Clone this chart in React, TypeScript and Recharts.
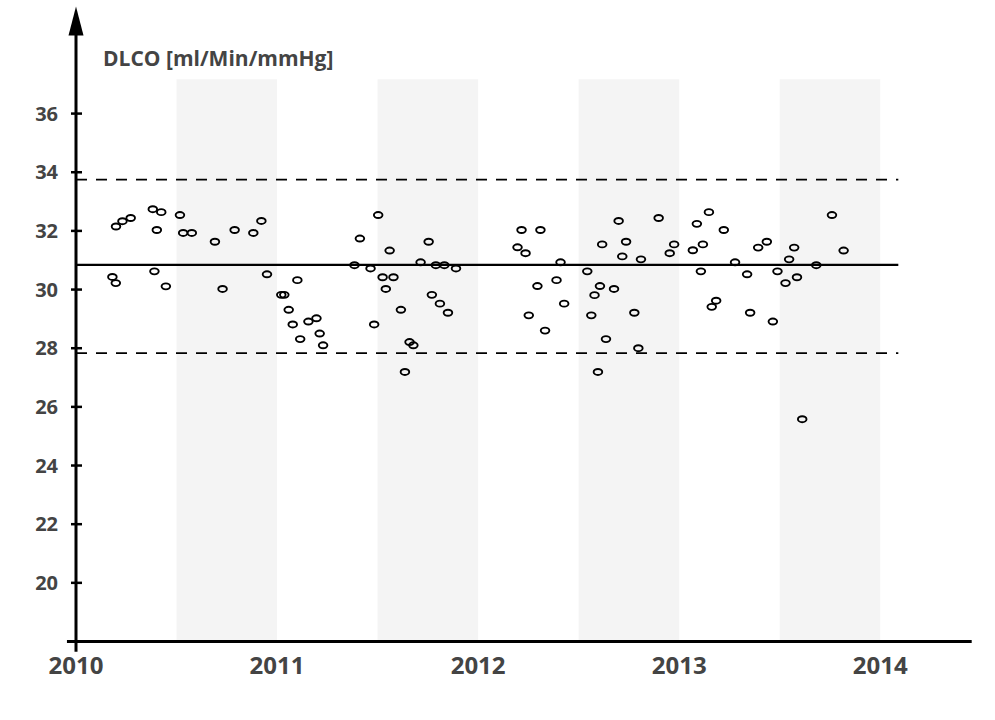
import React from "react";
import {
  ScatterChart,
  Scatter,
  XAxis,
  YAxis,
  ReferenceArea,
  ReferenceLine,
  ReferenceDot,
} from "recharts";

// Measurement dates (decimal years)
const measurementDates: number[] = [
  2010.181, 2010.198, 2010.199, 2010.231, 2010.272, 2010.382, 2010.402, 2010.39, 2010.424, 2010.447,
  2010.517, 2010.533, 2010.576, 2010.691, 2010.729, 2010.789, 2010.882, 2010.922, 2010.95,
  2011.021, 2011.036, 2011.058, 2011.078, 2011.101, 2011.115, 2011.156, 2011.196, 2011.212, 2011.229,
  2011.385, 2011.412, 2011.465, 2011.483, 2011.503, 2011.525, 2011.541, 2011.56, 2011.579, 2011.616,
  2011.636, 2011.659, 2011.678, 2011.714, 2011.754, 2011.77, 2011.79, 2011.81, 2011.832, 2011.85, 2011.89,
  2012.196, 2012.216, 2012.236, 2012.252, 2012.295, 2012.31, 2012.333, 2012.39, 2012.41, 2012.428,
  2012.543, 2012.563, 2012.579, 2012.596, 2012.606, 2012.617, 2012.636, 2012.676, 2012.699, 2012.717,
  2012.736, 2012.777, 2012.797, 2012.81, 2012.898, 2012.953, 2012.975,
  2013.068, 2013.088, 2013.108, 2013.118, 2013.148, 2013.162, 2013.184, 2013.222, 2013.278, 2013.338,
  2013.353, 2013.393, 2013.436, 2013.466, 2013.489, 2013.529, 2013.547, 2013.572, 2013.586, 2013.612,
  2013.682, 2013.76, 2013.818,
];

// DLCO values [ml/Min/mmHg]
const dlcoValues: number[] = [
  30.43, 30.22, 32.15, 32.33, 32.44, 32.74, 32.03, 30.62, 32.64, 30.11,
  32.54, 31.93, 31.93, 31.63, 30.02, 32.03, 31.93, 32.34, 30.52,
  29.82, 29.82, 29.31, 28.81, 30.32, 28.31, 28.91, 29.02, 28.5, 28.1,
  30.83, 31.74, 30.72, 28.81, 32.54, 30.42, 30.02, 31.33, 30.42, 29.31,
  27.19, 28.21, 28.1, 30.93, 31.63, 29.82, 30.83, 29.52, 30.83, 29.21, 30.72,
  31.44, 32.03, 31.24, 29.12, 30.12, 32.03, 28.6, 30.32, 30.93, 29.52,
  30.62, 29.12, 29.81, 27.19, 30.12, 31.54, 28.31, 30.02, 32.34, 31.13,
  31.63, 29.21, 28.0, 31.03, 32.44, 31.24, 31.54,
  31.34, 32.24, 30.62, 31.54, 32.64, 29.41, 29.62, 32.03, 30.93, 30.52,
  29.21, 31.43, 31.63, 28.91, 30.62, 30.22, 31.03, 31.43, 30.42, 25.58,
  30.83, 32.54, 31.33,
];

const yearTicks: number[] = [2010, 2011, 2012, 2013, 2014];
const valueTicks: number[] = [20, 22, 24, 26, 28, 30, 32, 34, 36];
const shadedHalfYears: number[] = [2010.5, 2011.5, 2012.5, 2013.5];

const meanValue = 30.84;
const upperLimit = 33.75;
const lowerLimit = 27.83;
const refLineEnd = 2014.09;

const yTitle = "DLCO [ml/Min/mmHg]";

const X_MIN = 2010;
const X_MAX = 2014.455;
const Y_MIN = 18;
const Y_MAX = 38.7;

const points = measurementDates.map((x, i) => ({ x, y: dlcoValues[i] }));

const FONT = "'Open Sans', 'Noto Sans', sans-serif";
const TEXT_COLOR = "#444";

const YTick = (props: any) => {
  const { x, y, payload } = props;
  return (
    <g>
      <line x1={x - 5} x2={x + 6} y1={y} y2={y} stroke="#000" strokeWidth={2.5} />
      <text
        x={x - 18}
        y={y + 7}
        textAnchor="end"
        fontFamily={FONT}
        fontWeight={700}
        fontSize={20}
        fill={TEXT_COLOR}
      >
        {payload.value}
      </text>
    </g>
  );
};

const XTick = (props: any) => {
  const { x, y, payload } = props;
  return (
    <text
      x={x}
      y={y + 32.5}
      textAnchor="middle"
      fontFamily={FONT}
      fontWeight={700}
      fontSize={24}
      fill={TEXT_COLOR}
    >
      {payload.value}
    </text>
  );
};

const Marker = (props: any) => {
  const { cx, cy } = props;
  if (cx == null || cy == null) return null;
  return <ellipse cx={cx} cy={cy} rx={4.3} ry={3.0} fill="none" stroke="#000" strokeWidth={1.9} />;
};

const Arrow = (props: any) => {
  const { cx, cy } = props;
  if (cx == null || cy == null) return null;
  return <polygon points={`${cx},${cy - 28} ${cx - 7.5},${cy + 1} ${cx + 7.5},${cy + 1}`} fill="#000" />;
};

export default function App() {
  return (
    <div
      style={{
        position: "absolute",
        left: 0,
        top: 0,
        width: 995,
        height: 720,
        background: "#fff",
      }}
    >
      <div
        style={{
          position: "absolute",
          left: 103,
          top: 48,
          fontFamily: FONT,
          fontWeight: 700,
          fontSize: 21,
          lineHeight: "21px",
          color: TEXT_COLOR,
          whiteSpace: "nowrap",
          zIndex: 2,
        }}
      >
        {yTitle}
      </div>
      <ScatterChart
        width={995}
        height={720}
        margin={{ top: 34.4, right: 23.3, bottom: 48.5, left: 0 }}
      >
        {shadedHalfYears.map((s) => (
          <ReferenceArea
            key={s}
            x1={s}
            x2={s + 0.5}
            y1={Y_MIN}
            y2={37.17}
            fill="#f4f4f4"
            fillOpacity={1}
            stroke="none"
            ifOverflow="visible"
          />
        ))}
        <XAxis
          type="number"
          dataKey="x"
          domain={[X_MIN, X_MAX]}
          ticks={yearTicks}
          allowDataOverflow
          axisLine={false}
          tickLine={false}
          tickSize={0}
          tickMargin={0}
          height={30}
          tick={<XTick />}
          interval={0}
        />
        <YAxis
          type="number"
          dataKey="y"
          domain={[Y_MIN, Y_MAX]}
          ticks={valueTicks}
          allowDataOverflow
          axisLine={false}
          tickLine={false}
          tickSize={0}
          tickMargin={0}
          width={76}
          tick={<YTick />}
          interval={0}
        />
        <ReferenceLine
          segment={[
            { x: X_MIN, y: upperLimit },
            { x: refLineEnd, y: upperLimit },
          ]}
          stroke="#000"
          strokeWidth={1.8}
          strokeDasharray="11 9"
          ifOverflow="visible"
        />
        <ReferenceLine
          segment={[
            { x: X_MIN, y: lowerLimit },
            { x: refLineEnd, y: lowerLimit },
          ]}
          stroke="#000"
          strokeWidth={1.8}
          strokeDasharray="11 9"
          ifOverflow="visible"
        />
        <ReferenceLine
          segment={[
            { x: X_MIN, y: meanValue },
            { x: refLineEnd, y: meanValue },
          ]}
          stroke="#000"
          strokeWidth={2.2}
          ifOverflow="visible"
        />
        <ReferenceLine
          segment={[
            { x: 2009.955, y: Y_MIN },
            { x: X_MAX, y: Y_MIN },
          ]}
          stroke="#000"
          strokeWidth={3}
          ifOverflow="visible"
        />
        <ReferenceLine
          segment={[
            { x: X_MIN, y: 17.65 },
            { x: X_MIN, y: Y_MAX },
          ]}
          stroke="#000"
          strokeWidth={3}
          ifOverflow="visible"
        />
        <ReferenceDot x={X_MIN} y={Y_MAX} r={0} shape={<Arrow />} ifOverflow="visible" />
        <Scatter data={points} shape={<Marker />} isAnimationActive={false} />
      </ScatterChart>
    </div>
  );
}
